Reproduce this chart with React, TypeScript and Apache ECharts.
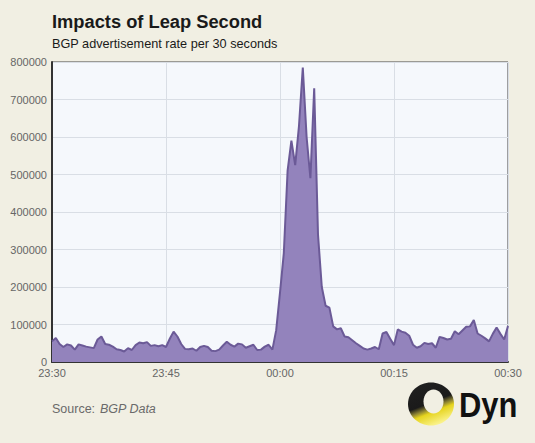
import React, { useEffect, useRef } from "react";
import * as echarts from "echarts";

const TITLE = "Impacts of Leap Second";
const SUBTITLE = "BGP advertisement rate per 30 seconds";
const SOURCE_LABEL = "Source:";
const SOURCE_NAME = "BGP Data";
const X_TICK_LABELS = ["23:30", "23:45", "00:00", "00:15", "00:30"];
const STEP_MINUTES = 0.5; // one sample every 30 seconds
const RATES = [
  55000, 64000, 48000, 40000, 47000, 44000, 33000, 47000, 44000, 41000, 39000, 37000, 60000, 68000, 48000, 46000,
  41000, 34000, 32000, 28000, 37000, 32000, 45000, 52000, 50000, 53000, 43000, 45000, 42000, 45000, 40000,
  62000, 81000, 68000, 48000, 35000, 34000, 36000, 30000, 40000, 43000, 40000, 30000, 29000, 33000, 44000, 54000,
  46000, 41000, 49000, 47000, 38000, 42000, 46000, 32000, 33000, 41000, 46000, 33000, 85000,
  185000, 290000, 510000, 590000, 525000, 630000, 785000, 600000, 490000, 730000, 340000, 200000, 150000, 145000,
  95000, 87000, 90000, 68000, 66000, 58000, 50000, 43000, 36000, 33000, 36000, 40000, 34000, 76000, 80000, 62000,
  45000, 87000, 81000, 78000, 70000, 46000, 38000, 42000, 51000, 48000, 50000, 38000, 67000, 64000, 60000, 62000,
  82000, 74000, 84000, 94000, 95000, 112000, 76000, 70000, 63000, 55000, 75000, 92000, 75000, 60000, 96000,
];

export default function App() {
  const ref = useRef<HTMLDivElement>(null);
  useEffect(() => {
    if (!ref.current) return;
    const chart = echarts.init(ref.current, undefined, { renderer: "svg" });
    const xMax = (RATES.length - 1) * STEP_MINUTES;
    const tickStep = xMax / (X_TICK_LABELS.length - 1);
    chart.setOption({
      animation: false,
      backgroundColor: "#f1efe3",
      grid: {
        left: 52,
        right: 27,
        top: 62,
        bottom: 81,
        show: true,
        backgroundColor: "#f5f8fc",
        borderColor: "#444",
        borderWidth: 1,
      },
      xAxis: {
        type: "value",
        min: 0,
        max: xMax,
        interval: tickStep,
        axisLine: { show: true, onZero: false, lineStyle: { color: "#333", width: 2 } },
        axisTick: { show: false },
        axisLabel: {
          color: "#666",
          fontSize: 11,
          fontFamily: "Liberation Sans, Arial, sans-serif",
          margin: 5,
          formatter: (v: number) => X_TICK_LABELS[Math.round(v / tickStep)] ?? "",
        },
        splitLine: { show: true, lineStyle: { color: "#d9dee5", width: 1 } },
      },
      yAxis: {
        type: "value",
        min: 0,
        max: 800000,
        interval: 100000,
        axisLine: { show: true, lineStyle: { color: "#333", width: 2 } },
        axisTick: { show: false },
        axisLabel: {
          color: "#666",
          fontSize: 11,
          fontFamily: "Liberation Sans, Arial, sans-serif",
          margin: 5,
          formatter: (v: number) => String(v),
        },
        splitLine: { show: true, lineStyle: { color: "#d9dee5", width: 1 } },
      },
      series: [
        {
          type: "line",
          data: RATES.map((v, i) => [i * STEP_MINUTES, v]),
          showSymbol: false,
          smooth: false,
          lineStyle: { color: "#6b5a97", width: 2 },
          areaStyle: { color: "#9383bc", opacity: 1 },
          z: 3,
        },
      ],
      graphic: [
        {
          type: "text",
          x: 52,
          y: 21.7,
          style: {
            text: TITLE,
            font: "bold 18.3px 'Liberation Sans', Arial, sans-serif",
            fill: "#1a1a1a",
            verticalAlign: "middle",
          },
        },
        {
          type: "text",
          x: 52,
          y: 43.8,
          style: {
            text: SUBTITLE,
            font: "12.7px 'Liberation Sans', Arial, sans-serif",
            fill: "#1a1a1a",
            verticalAlign: "middle",
          },
        },
        {
          type: "text",
          x: 52,
          y: 409,
          style: {
            text: SOURCE_LABEL,
            font: "12.5px 'Liberation Sans', Arial, sans-serif",
            fill: "#6a6a6a",
            verticalAlign: "middle",
          },
        },
        {
          type: "text",
          x: 100,
          y: 409,
          style: {
            text: SOURCE_NAME,
            font: "italic 12.5px 'Liberation Sans', Arial, sans-serif",
            fill: "#6a6a6a",
            verticalAlign: "middle",
          },
        },
        {
          type: "ellipse",
          shape: { cx: 431, cy: 404, rx: 23, ry: 21.5 },
          style: {
            fill: new echarts.graphic.LinearGradient(0.15, 0.05, 0.55, 1, [
              { offset: 0, color: "#202020" },
              { offset: 0.5, color: "#1a1a1a" },
              { offset: 0.62, color: "#8c8232" },
              { offset: 0.72, color: "#e6d41e" },
              { offset: 1, color: "#faf28a" },
            ]),
          },
        },
        {
          type: "ellipse",
          shape: { cx: 433.5, cy: 401.5, rx: 10, ry: 12 },
          style: { fill: "#f1efe3" },
        },
        {
          type: "text",
          x: 459,
          y: 405,
          scaleX: 0.86,
          style: {
            text: "Dyn",
            font: "bold 36px 'Liberation Sans', Arial, sans-serif",
            fill: "#111",
            verticalAlign: "middle",
          },
        },
      ],
    });
    return () => chart.dispose();
  }, []);
  return (
    <div
      ref={ref}
      style={{ position: "fixed", left: 0, top: 0, width: 535, height: 443 }}
    />
  );
}
